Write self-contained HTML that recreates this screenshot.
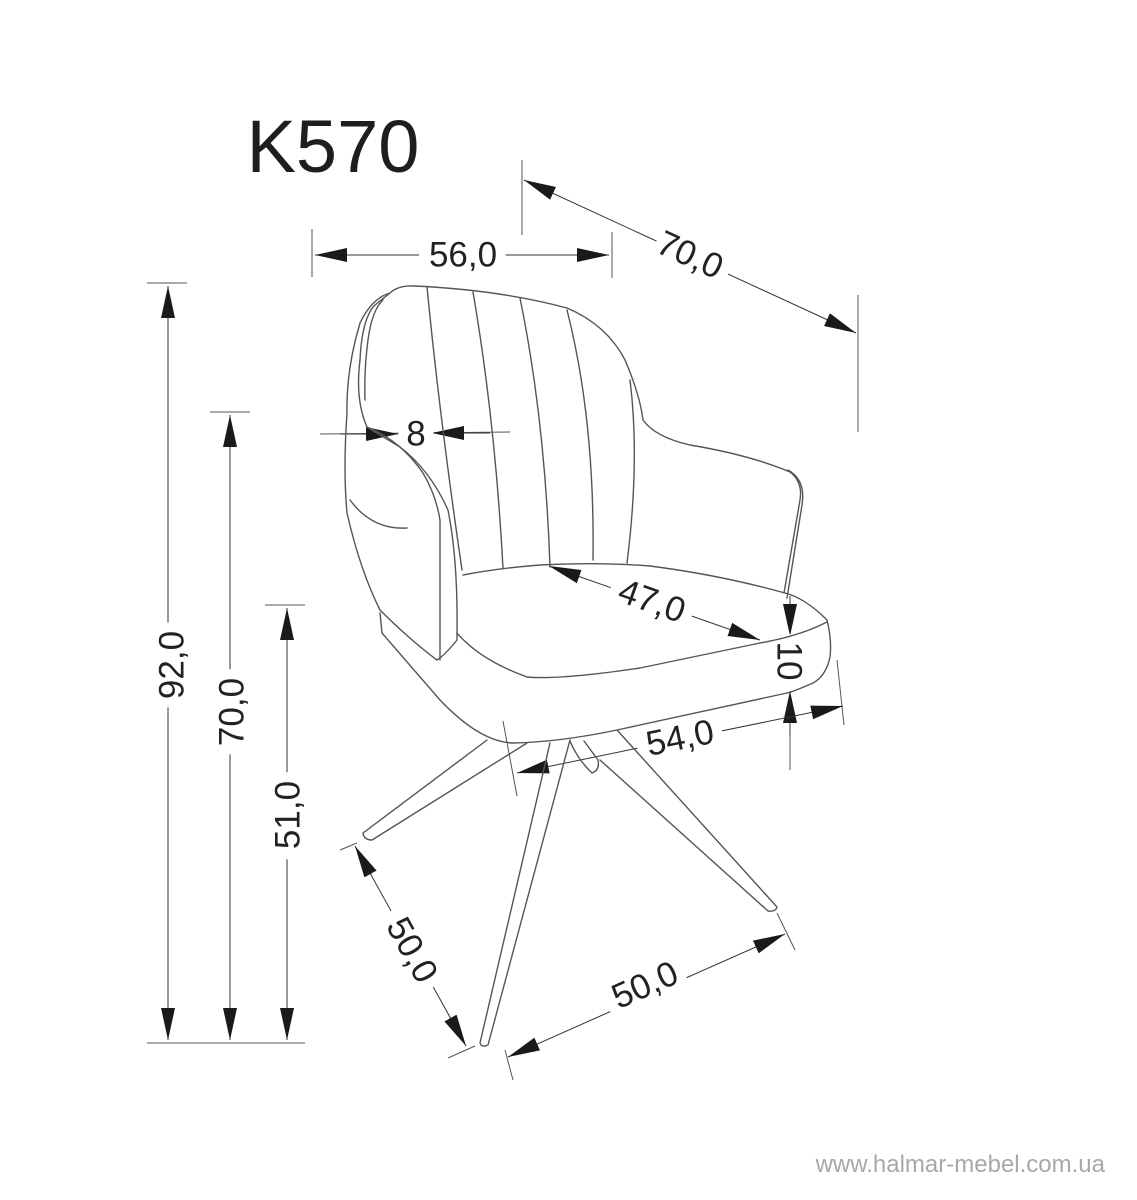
<!DOCTYPE html>
<html><head><meta charset="utf-8"><style>
html,body{margin:0;padding:0;background:#fff}
svg{display:block}
.t{font-family:"Liberation Sans",sans-serif;font-size:35px;fill:#222;stroke:#fff;stroke-width:20px;paint-order:stroke;text-anchor:middle;dominant-baseline:central}
</style></head><body>
<svg width="1137" height="1200" viewBox="0 0 1137 1200" xmlns="http://www.w3.org/2000/svg">
<defs>
<marker id="a" markerUnits="userSpaceOnUse" markerWidth="34" markerHeight="16" refX="32" refY="7" orient="auto-start-reverse"><path d="M0,0 L32,7 L0,14 z" fill="#1a1a1a"/></marker>
</defs>
<text x="333" y="172" font-family="Liberation Sans, sans-serif" font-size="74" fill="#1e1e1e" text-anchor="middle">K570</text>

<g stroke="#555" stroke-width="1" fill="none">
<line x1="312" y1="229" x2="312" y2="277"/><line x1="612" y1="232" x2="612" y2="278"/>
<line x1="522" y1="160" x2="522" y2="235"/><line x1="858" y1="295" x2="858" y2="432"/>
<line x1="147" y1="283" x2="187" y2="283"/><line x1="210" y1="412" x2="250" y2="412"/><line x1="265" y1="605" x2="305" y2="605"/>
<line x1="147" y1="1043" x2="305" y2="1043"/>
<line x1="790" y1="720" x2="790" y2="770"/><line x1="837" y1="660" x2="844" y2="725"/>
<line x1="503" y1="721" x2="517" y2="796"/>
<line x1="340" y1="850" x2="357" y2="843"/><line x1="448" y1="1058" x2="475" y2="1046"/>
<line x1="505" y1="1050" x2="513" y2="1080"/><line x1="777" y1="913" x2="795" y2="950"/>
<line x1="320" y1="434" x2="510" y2="432"/>
</g>

<g stroke="#333" stroke-width="1" fill="none">
<line x1="315" y1="255" x2="609" y2="255" marker-start="url(#a)" marker-end="url(#a)"/>
<line x1="524" y1="180" x2="856" y2="333" marker-start="url(#a)" marker-end="url(#a)"/>
<line x1="168" y1="286" x2="168" y2="1040" marker-start="url(#a)" marker-end="url(#a)"/>
<line x1="230" y1="415" x2="230" y2="1040" marker-start="url(#a)" marker-end="url(#a)"/>
<line x1="287" y1="608" x2="287" y2="1040" marker-start="url(#a)" marker-end="url(#a)"/>
<line x1="340" y1="434" x2="398" y2="434" marker-end="url(#a)"/>
<line x1="490" y1="433" x2="432" y2="433" marker-end="url(#a)"/>
<line x1="549" y1="566" x2="760" y2="640" marker-start="url(#a)" marker-end="url(#a)"/>
<line x1="790" y1="596" x2="790" y2="636" marker-end="url(#a)"/>
<line x1="790" y1="735" x2="790" y2="691" marker-end="url(#a)"/>
<line x1="517" y1="773" x2="843" y2="706" marker-start="url(#a)" marker-end="url(#a)"/>
<line x1="355" y1="846" x2="466" y2="1046" marker-start="url(#a)" marker-end="url(#a)"/>
<line x1="508" y1="1057" x2="785" y2="934" marker-start="url(#a)" marker-end="url(#a)"/>
</g>

<text class="t" x="463" y="255">56,0</text>
<text class="t" transform="translate(690,255) rotate(24.7)">70,0</text>
<text class="t" transform="translate(172,665) rotate(-90)">92,0</text>
<text class="t" transform="translate(232,712) rotate(-90)">70,0</text>
<text class="t" transform="translate(288,815) rotate(-90)">51,0</text>
<text class="t" x="416" y="434">8</text>
<text class="t" transform="translate(652,601) rotate(19.5)">47,0</text>
<text class="t" transform="translate(789,661) rotate(90)">10</text>
<text class="t" transform="translate(680,738) rotate(-11.5)">54,0</text>
<text class="t" transform="translate(412,950) rotate(61)">50,0</text>
<text class="t" transform="translate(645,985) rotate(-24)">50,0</text>

<g stroke="#555" stroke-width="1.4" fill="none" stroke-linejoin="round" stroke-linecap="round">
<path d="M390,293 Q398,285 415,286 Q500,290 567,308 Q607,325 625,360 Q640,395 643,420 Q655,437 690,445 Q750,455 790,472 Q803,482 800,500 L784,593"/>
<path d="M788,470 Q806,480 802,505 L787,598"/>
<path d="M427,287 Q440,420 462,570"/>
<path d="M473,292 Q495,420 503,568"/>
<path d="M520,298 Q545,420 550,567"/>
<path d="M567,310 Q595,420 593,560"/>
<path d="M630,380 Q640,460 627,563"/>
<path d="M463,575 Q500,568 540,565 Q600,562 650,566 Q720,575 785,593 Q805,598 827,620 Q832,640 830,657 Q826,676 813,683 Q790,693 787,693 L617,730 Q560,742 513,743 Q480,742 440,700 L382,633 L380,613"/>
<path d="M457,633 Q480,660 527,677 Q560,680 640,668 L760,643 Q800,636 827,622"/>
<path d="M390,293 Q372,298 360,323 Q346,370 347,413 Q343,470 347,513 Q360,570 380,610 Q410,640 437,660 Q445,655 457,640 L457,633 Q458,560 448,510 Q430,470 400,447 Q375,432 367,427 Q355,400 360,360 Q362,318 375,305 Z"/>
<path d="M367,427 Q400,440 423,473 Q436,495 440,520 L440,660"/>
<path d="M383,300 Q372,310 368,340 Q364,370 365,400"/>
<path d="M350,500 Q372,530 407,528"/>
<path d="M570,741 Q578,760 592,773 Q600,770 598,760 L584,741"/>
<path d="M487,740 L363,833 Q364,840 372,840 L527,743"/>
<path d="M550,743 L480,1043 Q482,1048 488,1045 L570,740"/>
<path d="M617,730 L777,907 Q776,912 768,911 L600,760"/>
</g>

<text x="1105" y="1172" font-family="Liberation Sans, sans-serif" font-size="24" fill="#a8a8a8" text-anchor="end">www.halmar-mebel.com.ua</text>
</svg>
</body></html>
